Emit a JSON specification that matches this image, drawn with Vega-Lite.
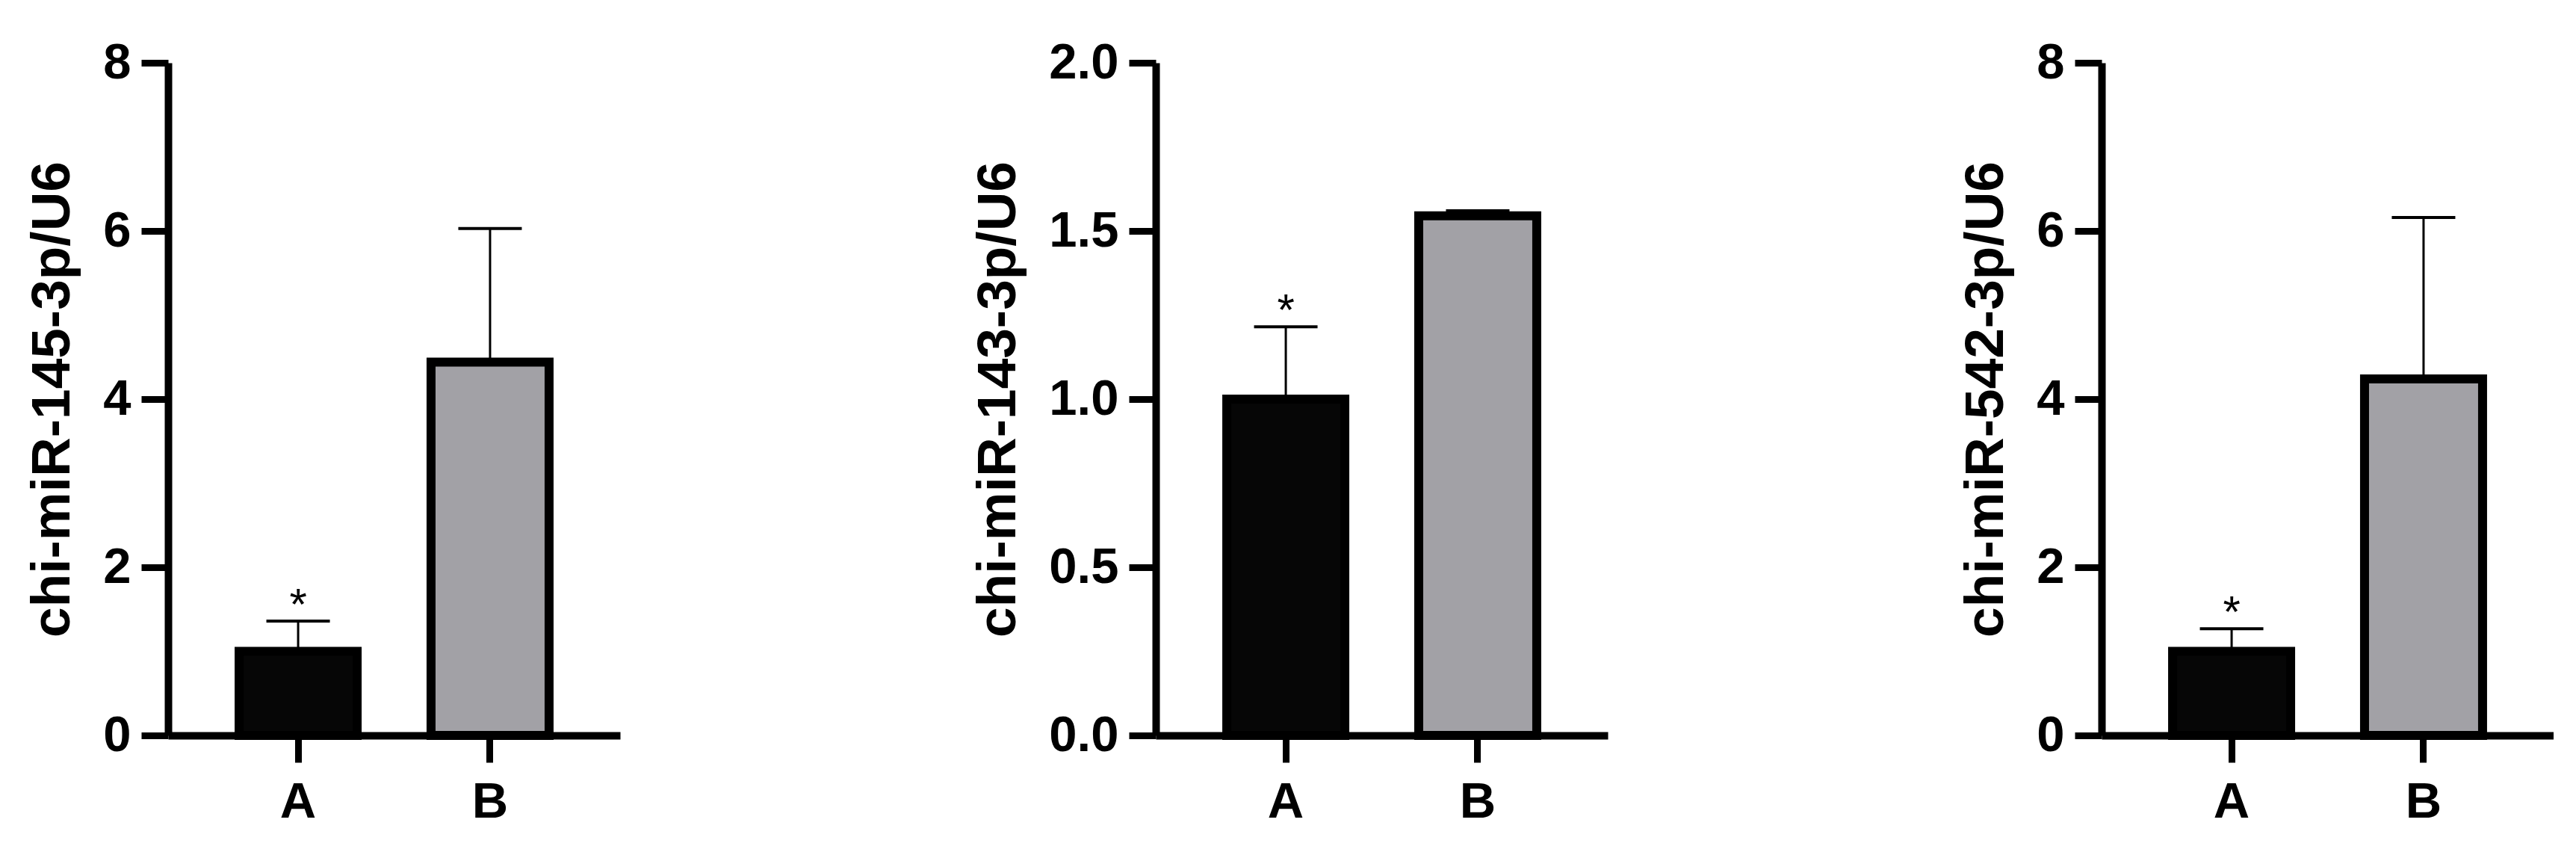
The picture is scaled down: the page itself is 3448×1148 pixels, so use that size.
{
  "$schema": "https://vega.github.io/schema/vega-lite/v6.json",
  "padding": {"left": 34, "top": 50, "right": 0, "bottom": 0},
  "background": "white",
  "spacing": 470,
  "hconcat": [
    {
      "width": 605,
      "height": 900,
      "data": {"values": [
        {"group": "A", "mean": 1.0, "upper": 1.36, "sig": "*"},
        {"group": "B", "mean": 4.44, "upper": 6.03, "sig": ""}
      ]},
      "encoding": {
        "x": {"field": "group", "type": "nominal", "scale": {"paddingInner": 0.385, "paddingOuter": 0.37}, "axis": {"title": null}}
      },
      "layer": [
        {
          "mark": {"type": "rule", "strokeWidth": 3, "color": "black"},
          "encoding": {
            "y": {"field": "mean", "type": "quantitative", "scale": {"domain": [0, 8], "nice": false}, "axis": {"title": "chi-miR-145-3p/U6", "values": [0, 2, 4, 6, 8], "format": "d"}},
            "y2": {"field": "upper"}
          }
        },
        {
          "mark": {"type": "tick", "orient": "horizontal", "size": 85, "thickness": 4, "color": "black", "opacity": 1},
          "encoding": {"y": {"field": "upper", "type": "quantitative"}}
        },
        {
          "mark": {"type": "bar", "stroke": "black", "strokeWidth": 12},
          "encoding": {
            "y": {"field": "mean", "type": "quantitative"},
            "fill": {"field": "group", "type": "nominal", "scale": {"domain": ["A", "B"], "range": ["#060606", "#a2a1a6"]}, "legend": null}
          }
        },
        {
          "mark": {"type": "text", "font": "Liberation Sans", "fontSize": 60, "baseline": "alphabetic", "dy": -2, "color": "black"},
          "encoding": {"y": {"field": "upper", "type": "quantitative"}, "text": {"field": "sig"}}
        }
      ]
    },
    {
      "width": 605,
      "height": 900,
      "data": {"values": [
        {"group": "A", "mean": 1.0, "upper": 1.215, "sig": "*"},
        {"group": "B", "mean": 1.545, "upper": 1.56, "sig": ""}
      ]},
      "encoding": {
        "x": {"field": "group", "type": "nominal", "scale": {"paddingInner": 0.385, "paddingOuter": 0.37}, "axis": {"title": null}}
      },
      "layer": [
        {
          "mark": {"type": "rule", "strokeWidth": 3, "color": "black"},
          "encoding": {
            "y": {"field": "mean", "type": "quantitative", "scale": {"domain": [0, 2], "nice": false}, "axis": {"title": "chi-miR-143-3p/U6", "values": [0, 0.5, 1, 1.5, 2], "format": ".1f"}},
            "y2": {"field": "upper"}
          }
        },
        {
          "mark": {"type": "tick", "orient": "horizontal", "size": 85, "thickness": 4, "color": "black", "opacity": 1},
          "encoding": {"y": {"field": "upper", "type": "quantitative"}}
        },
        {
          "mark": {"type": "bar", "stroke": "black", "strokeWidth": 12},
          "encoding": {
            "y": {"field": "mean", "type": "quantitative"},
            "fill": {"field": "group", "type": "nominal", "scale": {"domain": ["A", "B"], "range": ["#060606", "#a2a1a6"]}, "legend": null}
          }
        },
        {
          "mark": {"type": "text", "font": "Liberation Sans", "fontSize": 60, "baseline": "alphabetic", "dy": -2, "color": "black"},
          "encoding": {"y": {"field": "upper", "type": "quantitative"}, "text": {"field": "sig"}}
        }
      ]
    },
    {
      "width": 605,
      "height": 900,
      "data": {"values": [
        {"group": "A", "mean": 1.0, "upper": 1.27, "sig": "*"},
        {"group": "B", "mean": 4.24, "upper": 6.16, "sig": ""}
      ]},
      "encoding": {
        "x": {"field": "group", "type": "nominal", "scale": {"paddingInner": 0.385, "paddingOuter": 0.37}, "axis": {"title": null}}
      },
      "layer": [
        {
          "mark": {"type": "rule", "strokeWidth": 3, "color": "black"},
          "encoding": {
            "y": {"field": "mean", "type": "quantitative", "scale": {"domain": [0, 8], "nice": false}, "axis": {"title": "chi-miR-542-3p/U6", "values": [0, 2, 4, 6, 8], "format": "d"}},
            "y2": {"field": "upper"}
          }
        },
        {
          "mark": {"type": "tick", "orient": "horizontal", "size": 85, "thickness": 4, "color": "black", "opacity": 1},
          "encoding": {"y": {"field": "upper", "type": "quantitative"}}
        },
        {
          "mark": {"type": "bar", "stroke": "black", "strokeWidth": 12},
          "encoding": {
            "y": {"field": "mean", "type": "quantitative"},
            "fill": {"field": "group", "type": "nominal", "scale": {"domain": ["A", "B"], "range": ["#060606", "#a2a1a6"]}, "legend": null}
          }
        },
        {
          "mark": {"type": "text", "font": "Liberation Sans", "fontSize": 60, "baseline": "alphabetic", "dy": -2, "color": "black"},
          "encoding": {"y": {"field": "upper", "type": "quantitative"}, "text": {"field": "sig"}}
        }
      ]
    }
  ],
  "config": {
    "view": {"stroke": null},
    "axis": {
      "grid": false,
      "domainColor": "black",
      "domainWidth": 10,
      "tickColor": "black",
      "tickWidth": 9,
      "tickSize": 36,
      "labelFont": "Liberation Sans",
      "labelFontWeight": "bold",
      "labelFontSize": 67,
      "labelColor": "black",
      "titleFont": "Liberation Sans",
      "titleFontWeight": "bold",
      "titleFontSize": 73,
      "titleColor": "black"
    },
    "axisX": {"labelPadding": 20, "labelAngle": 0},
    "axisY": {"labelPadding": 14, "titlePadding": 30}
  }
}
